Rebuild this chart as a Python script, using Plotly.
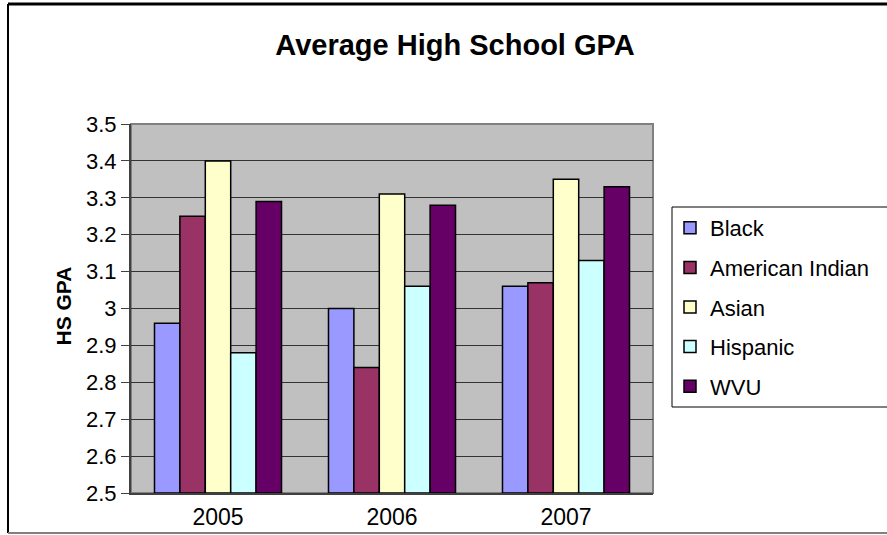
import plotly.graph_objects as go

# Data
years = ["2005", "2006", "2007"]
black = [2.96, 3.00, 3.06]
american_indian = [3.25, 2.84, 3.07]
asian = [3.40, 3.31, 3.35]
hispanic = [2.88, 3.06, 3.13]
wvu = [3.29, 3.28, 3.33]

series_names = ["Black", "American Indian", "Asian", "Hispanic", "WVU"]
series_values = [black, american_indian, asian, hispanic, wvu]
series_colors = ["#9999FF", "#993366", "#FFFFCC", "#CCFFFF", "#660066"]

font_family = "Arial, Liberation Sans, sans-serif"
BASE = 2.5

# Create chart
fig = go.Figure()

# bars start at the axis floor of 2.5
for name, vals, color in zip(series_names, series_values, series_colors):
    fig.add_trace(go.Bar(
        x=years,
        y=[v - BASE for v in vals],
        base=BASE,
        name=name,
        legendgroup=name,
        hovertext=[f"{v:.2f}" for v in vals],
        marker=dict(color=color, line=dict(color="black", width=1.5)),
    ))

# Pixel positions of the plot area
L, R, T, B = 131, 653, 124, 493
W, H = R - L, B - T
def px_x(p):
    return (p - L) / W
def px_y(p):
    return (B - p) / H

# Plot area fill and grey border
fig.add_shape(type="rect", xref="paper", yref="paper",
              x0=0, x1=1, y0=0, y1=1,
              fillcolor="#C0C0C0", line=dict(color="#808080", width=2),
              layer="below")

# Outer chart border
fig.add_shape(type="line", xref="paper", yref="paper",
              x0=px_x(8), x1=px_x(8), y0=px_y(4), y1=px_y(533),
              line=dict(color="black", width=2))
fig.add_shape(type="line", xref="paper", yref="paper",
              x0=px_x(8), x1=px_x(900), y0=px_y(4), y1=px_y(4),
              line=dict(color="black", width=3))
fig.add_shape(type="line", xref="paper", yref="paper",
              x0=px_x(8), x1=px_x(900), y0=px_y(533), y1=px_y(533),
              line=dict(color="#808080", width=2))

# Legend box (runs off the right edge like the original)
fig.add_shape(type="rect", xref="paper", yref="paper",
              x0=px_x(672), x1=px_x(900), y0=px_y(407), y1=px_y(207),
              fillcolor="white", line=dict(color="black", width=1),
              layer="below")

# Y axis title
fig.add_annotation(text="<b>HS GPA</b>", xref="paper", yref="paper",
                   x=px_x(49), y=px_y(306), textangle=-90, showarrow=False,
                   font=dict(size=21, color="black", family=font_family))

fig.update_yaxes(
    range=[2.5, 3.5],
    tickvals=[2.5, 2.6, 2.7, 2.8, 2.9, 3.0, 3.1, 3.2, 3.3, 3.4, 3.5],
    ticktext=["2.5", "2.6", "2.7", "2.8", "2.9", "3", "3.1", "3.2", "3.3", "3.4", "3.5"],
    showgrid=True, gridcolor="#333333", gridwidth=1,
    showline=True, linecolor="#404040", linewidth=2,
    ticks="outside", ticklen=8, tickcolor="#404040",
    tickfont=dict(size=22, color="black", family=font_family),
    zeroline=False, automargin=False,
)
fig.update_xaxes(
    showgrid=False,
    showline=True, linecolor="#404040", linewidth=2,
    tickfont=dict(size=23, color="black", family=font_family),
    ticklabelstandoff=2, automargin=False,
)

fig.update_layout(
    width=887, height=535,
    margin=dict(l=L, r=887 - R, t=T, b=535 - B),
    paper_bgcolor="white",
    plot_bgcolor="rgba(0,0,0,0)",
    barmode="group",
    bargap=0.27,
    bargroupgap=0,
    title=dict(text="<b>Average High School GPA</b>", x=455 / 887, xanchor="center",
               y=1 - 45 / 535, yanchor="middle",
               font=dict(size=29, color="black", family=font_family)),
    legend=dict(x=px_x(670), y=px_y(207), xanchor="left", yanchor="top",
                borderwidth=0, bgcolor="rgba(0,0,0,0)",
                font=dict(size=22, color="black", family=font_family),
                tracegroupgap=8, traceorder="grouped"),
    showlegend=True,
)

fig.write_html("out.html", config={"displayModeBar": False},
               post_script="document.body.style.margin='0';document.body.style.overflow='hidden';")
